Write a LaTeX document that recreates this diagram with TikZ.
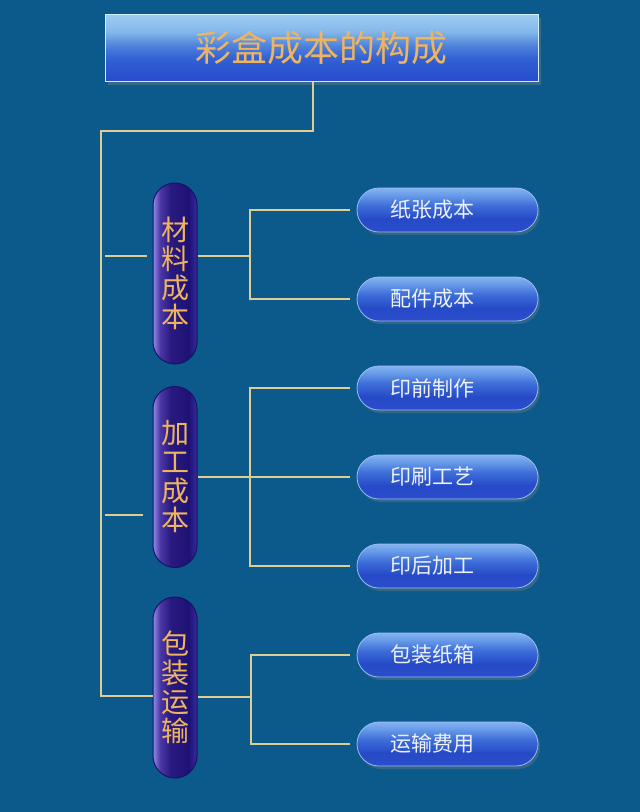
\documentclass[tikz,border=0pt]{standalone}
\usepackage{fontspec}
\setmainfont{Noto Sans CJK SC}
\usetikzlibrary{positioning,shadows}
\definecolor{bg}{RGB}{12,90,140}
\definecolor{gold}{RGB}{222,205,145}
\definecolor{orng}{RGB}{238,180,95}
\pgfdeclareverticalshading{headshade}{100bp}{rgb(0bp)=(0.15,0.29,0.8); rgb(25bp)=(0.15,0.29,0.8);
    rgb(42bp)=(0.2,0.38,0.83); rgb(52bp)=(0.32,0.52,0.86); rgb(62bp)=(0.52,0.72,0.92);
    rgb(75bp)=(0.62,0.8,0.95); rgb(100bp)=(0.62,0.8,0.95)}
\pgfdeclarehorizontalshading{branchshade}{100bp}{rgb(0bp)=(0.58,0.54,0.92); rgb(25bp)=(0.58,0.54,0.92);
    rgb(33bp)=(0.3,0.22,0.65); rgb(45bp)=(0.16,0.1,0.5); rgb(66bp)=(0.12,0.07,0.46);
    rgb(75bp)=(0.22,0.17,0.62); rgb(100bp)=(0.22,0.17,0.62)}
\pgfdeclareverticalshading{leafshade}{100bp}{rgb(0bp)=(0.17,0.3,0.8); rgb(25bp)=(0.17,0.3,0.8);
    rgb(40bp)=(0.15,0.29,0.78); rgb(55bp)=(0.24,0.43,0.85); rgb(68bp)=(0.42,0.62,0.92);
    rgb(75bp)=(0.52,0.7,0.94); rgb(100bp)=(0.52,0.7,0.94)}
\begin{document}
\begin{tikzpicture}[x=1pt, y=-1pt, node distance={44.2pt},
    head/.style = {draw=cyan!20!white, line width=1pt, minimum width=433pt, minimum height=67pt,
        shading=headshade, text=orng, font=\fontsize{36}{40}\selectfont,
        drop shadow={opacity=0.4, shadow xshift=3pt, shadow yshift=-4pt}},
    branch/.style = {draw={rgb,255:red,20;green,20;blue,105}, line width=1pt, rounded corners=22pt,
        minimum width=44pt, minimum height=181pt, text width=30pt, align=center, inner sep=0pt,
        shading=branchshade, text=orng, font=\fontsize{28}{29}\selectfont},
    leaf/.style = {draw={rgb,255:red,150;green,190;blue,240}, line width=0.8pt, rounded corners=22pt,
        minimum width=181pt, minimum height=44pt, text width=115pt, inner xsep=33pt, align=left,
        shading=leafshade, text={rgb,255:red,238;green,242;blue,250},
        font=\fontsize{21}{24}\selectfont,
        drop shadow={opacity=0.35, shadow xshift=2pt, shadow yshift=-3pt}},
    link/.style = {draw=gold, line width=1.8pt}]
    \fill[bg] (0,0) rectangle (640,812);
    \useasboundingbox (0,0) rectangle (640,812);
    \node[head] (title) at (321.5,47.5) {彩盒成本的构成};
    \node[branch] (mat) at (175,273.5) {材\\料\\成\\本};
    \node[branch] (proc) at (175,477) {加\\工\\成\\本};
    \node[branch] (pack) at (175,687.5) {包\\装\\运\\输};
    \node[leaf] (p1) at (447.5,210) {纸张成本};
    \node[leaf] (p2) [below=of p1] {配件成本};
    \node[leaf] (p3) [below=of p2] {印前制作};
    \node[leaf] (p4) [below=of p3] {印刷工艺};
    \node[leaf] (p5) [below=of p4] {印后加工};
    \node[leaf] (p6) [below=of p5] {包装纸箱};
    \node[leaf] (p7) [below=of p6] {运输费用};
    \coordinate (t1) at (313,131);
    \coordinate (t2) at (101,696);
    \coordinate (matj) at (250,256);
    \coordinate (procj) at (p4.west -| matj);
    \coordinate (packj) at (251,697);
    % trunk from the title
    \draw[link] (title.south -| t1) -- (t1) -| (t2) -- (pack.west |- t2);
    \draw[link] ([xshift=-6pt]mat.west |- matj) -- ++(-42,0);
    \draw[link] ([shift={(-10,38)}]proc.west) -- ++(-38,0);
    % branches
    \draw[link] (mat.east |- matj) -- (matj);
    \draw[link, shorten <=7pt, shorten >=7pt] (p1.west) -| (matj) |- (p2.west);
    \draw[link, shorten >=7pt] (proc.east |- procj) -- (p4.west);
    \draw[link, shorten <=7pt, shorten >=7pt] (p3.west) -| (procj) |- (p5.west);
    \draw[link] (pack.east |- packj) -- (packj);
    \draw[link, shorten <=7pt, shorten >=7pt] (p6.west) -| (packj) |- (p7.west);
\end{tikzpicture}
\end{document}
